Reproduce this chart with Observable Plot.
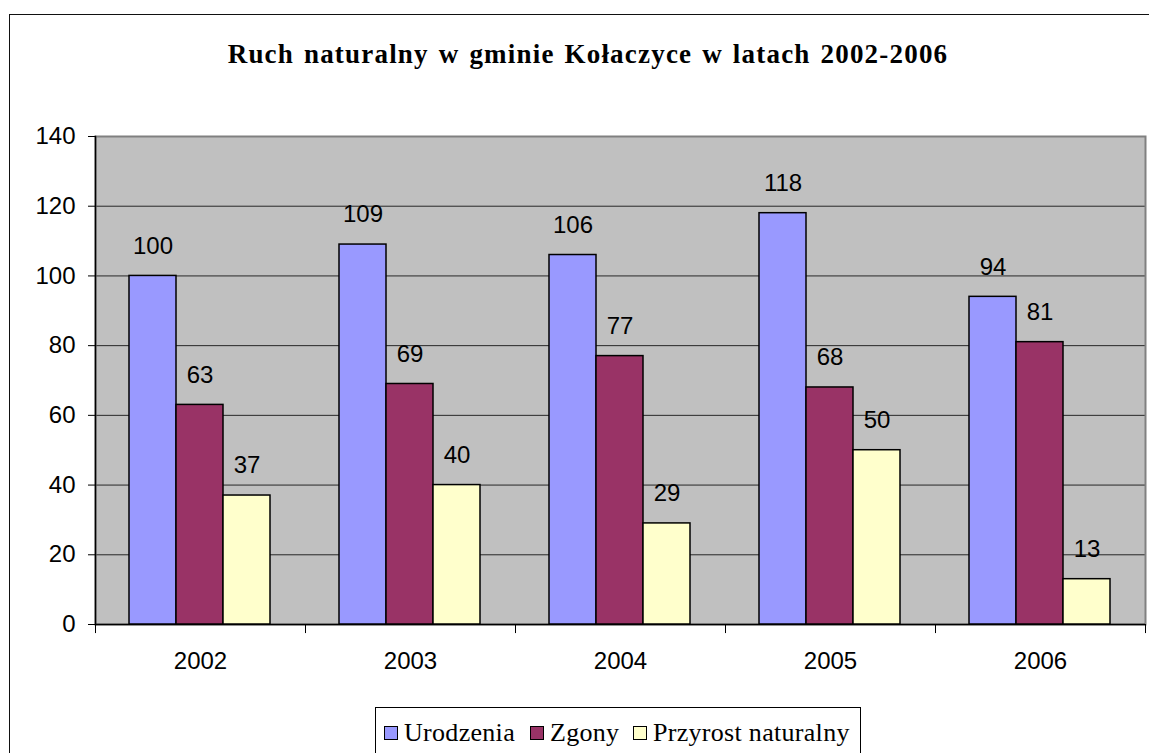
<!DOCTYPE html>
<html>
<head>
<meta charset="utf-8">
<script src="https://cdn.jsdelivr.net/npm/d3@7"></script>
<script src="https://cdn.jsdelivr.net/npm/@observablehq/plot@0.6"></script>
<style>
  html, body { margin: 0; padding: 0; background: #fff; }
  #wrap { position: relative; width: 1149px; height: 753px; overflow: hidden; background: #fff; }
  #border { position: absolute; left: 9px; top: 14px; width: 1200px; height: 800px; border: 1px solid #111; box-sizing: border-box; }
  #title { position: absolute; left: 9px; width: 1158px; top: 41px; line-height: 27px; text-align: center;
           font-family: "Liberation Serif", "Times New Roman", serif; font-weight: bold; font-size: 27px; letter-spacing: 1.2px; word-spacing: 2px; color: #000; }
  #chart { position: absolute; left: 0; top: 100px; }
  #legend { position: absolute; left: 375px; top: 707px; width: 486px; height: 60px; border: 1px solid #000; box-sizing: border-box; background: #fff; }
  .li { position: absolute; top: 10px; height: 30px; display: flex; align-items: center;
        font-family: "Liberation Serif", "Times New Roman", serif; font-size: 26px; letter-spacing: 0.3px; color: #000; white-space: nowrap; }
  .sw { width: 12px; height: 12px; border: 1.5px solid #000; margin-right: 6px; box-sizing: content-box; }
</style>
</head>
<body>
<div id="wrap">
  <div id="border"></div>
  <div id="title">Ruch naturalny w gminie Kołaczyce w latach 2002-2006</div>
  <div id="chart"></div>
  <div id="legend"></div>
</div>
<script>
const years = ["2002", "2003", "2004", "2005", "2006"];
const seriesNames = ["Urodzenia", "Zgony", "Przyrost naturalny"];
const urodzenia = [100, 109, 106, 118, 94];
const zgony = [63, 69, 77, 68, 81];
const przyrost = [37, 40, 29, 50, 13];
const colors = ["#9999FF", "#993366", "#FFFFCC"];
const yTicks = [0, 20, 40, 60, 80, 100, 120, 140];

const seriesValues = [urodzenia, zgony, przyrost];
const rows = [];
seriesNames.forEach((s, k) => years.forEach((y, i) => rows.push({year: y, series: s, k, value: seriesValues[k][i]})));

const band = 210;
const barLeft = 34, barW = 47;

const marks = [
  Plot.frame({fill: "#C0C0C0"}),
  Plot.gridY(yTicks, {stroke: "#000", strokeOpacity: 0.8, strokeWidth: 1}),
  Plot.frame({stroke: "#808080", strokeWidth: 2}),
  Plot.frame({anchor: "left", stroke: "#000", strokeWidth: 1.5}),
  Plot.ruleY([0], {stroke: "#000", strokeWidth: 1.5})
];
seriesNames.forEach((s, k) => {
  const d = rows.filter(r => r.k === k);
  marks.push(Plot.barY(d, {
    x: "year", y: "value", fill: colors[k], stroke: "#000", strokeWidth: 1.5,
    insetLeft: barLeft + barW * k, insetRight: band - (barLeft + barW * (k + 1))
  }));
  marks.push(Plot.text(d, {
    x: "year", y: "value", text: d => String(d.value), dx: barLeft + barW * k + barW / 2 - band / 2, dy: -30,
    fontSize: 24, fill: "#000"
  }));
});
marks.push(Plot.ruleX(years, {x: d => d, y1: 0, y2: -2.6, dx: -band / 2, stroke: "#000", strokeWidth: 1}));
marks.push(Plot.ruleX([years[years.length - 1]], {x: d => d, y1: 0, y2: -2.6, dx: band / 2, stroke: "#000", strokeWidth: 1}));
marks.push(Plot.axisY({ticks: yTicks, tickSize: 7, tickPadding: 13, fontSize: 24, label: null, stroke: "#000"}));
marks.push(Plot.axisX({tickSize: 0, tickPadding: 27, fontSize: 24, label: null}));

const chart = Plot.plot({
  width: 1149,
  height: 590,
  marginLeft: 95,
  marginRight: 4,
  marginTop: 36,
  marginBottom: 66,
  style: {background: "transparent", fontFamily: "'Liberation Sans', Arial, sans-serif", fontSize: "24px", color: "#000"},
  x: {domain: years, padding: 0, label: null},
  y: {domain: [0, 140], label: null},
  marks
});
document.getElementById("chart").appendChild(chart);

const legend = document.getElementById("legend");
const legendLeft = [8, 154, 257];
seriesNames.forEach((s, k) => {
  const item = document.createElement("div");
  item.className = "li";
  item.style.left = legendLeft[k] + "px";
  const sw = document.createElement("span");
  sw.className = "sw";
  sw.style.background = colors[k];
  const t = document.createElement("span");
  t.textContent = s;
  item.appendChild(sw);
  item.appendChild(t);
  legend.appendChild(item);
});
</script>
</body>
</html>
